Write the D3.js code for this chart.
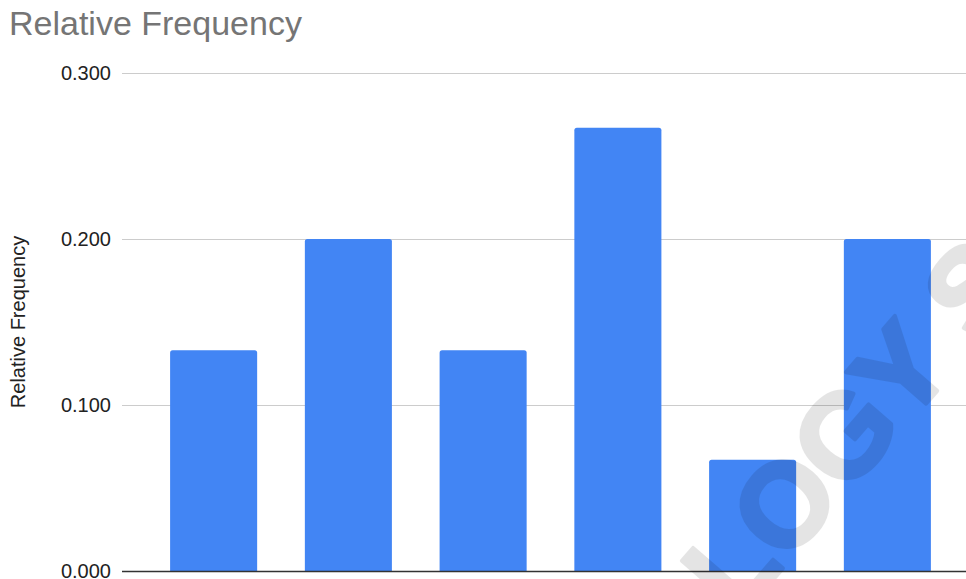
<!DOCTYPE html>
<html>
<head>
<meta charset="utf-8">
<script src="https://cdn.jsdelivr.net/npm/d3@7"></script>
<style>
  html, body { margin: 0; padding: 0; background: #fff; }
  svg { display: block; font-family: "Liberation Sans", Arial, sans-serif; }
</style>
</head>
<body>
<div id="chart"></div>
<script>
// Data
const categories = ["A", "B", "C", "D", "E", "F"]
const values = [0.133, 0.200, 0.133, 0.267, 0.067, 0.200]
const yTicks = [0, 0.1, 0.2, 0.3]
const titleText = "Relative Frequency"
const yLabel = "Relative Frequency"
const watermark = "LOGY S"

const width = 966
const height = 579
const plotLeft = 122
const plotTop = 73
const plotBottom = 571

const svg = d3.select("#chart")
  .append("svg")
  .attr("width", width)
  .attr("height", height)

const x = d3.scaleBand()
  .domain(categories)
  .range([plotLeft, 979])
  .paddingInner(0.354)
  .paddingOuter(0.357)

const y = d3.scaleLinear()
  .domain([0, 0.3])
  .range([plotBottom, plotTop])

// Title
svg.append("text")
  .attr("x", 9)
  .attr("y", 35)
  .attr("fill", "#757575")
  .style("font-size", "34px")
  .text(titleText)

// Gridlines
svg.selectAll(".grid")
  .data(yTicks.filter(d => d > 0))
  .enter()
  .append("line")
  .attr("class", "grid")
  .attr("x1", plotLeft)
  .attr("x2", width)
  .attr("y1", d => y(d) + 0.5)
  .attr("y2", d => y(d) + 0.5)
  .attr("stroke", "#cccccc")
  .attr("stroke-width", 1)

// Tick labels
svg.selectAll(".tick-label")
  .data(yTicks)
  .enter()
  .append("text")
  .attr("class", "tick-label")
  .attr("x", 111)
  .attr("y", d => y(d))
  .attr("dy", "0.36em")
  .attr("text-anchor", "end")
  .attr("fill", "#222")
  .style("font-size", "20px")
  .text(d => d3.format(".3f")(d))

// Y axis title
svg.append("text")
  .attr("transform", `translate(25,${(plotTop + plotBottom) / 2}) rotate(-90)`)
  .attr("text-anchor", "middle")
  .attr("fill", "#222")
  .style("font-size", "20px")
  .text(yLabel)

// Bars, rounded top corners only
const r = 2.5
svg.selectAll(".bar")
  .data(values)
  .enter()
  .append("path")
  .attr("class", "bar")
  .attr("fill", "#4285f4")
  .attr("d", (d, i) => {
    const x0 = x(categories[i])
    const x1 = x0 + x.bandwidth()
    const top = y(d)
    const bot = y(0)
    return `M${x0},${bot} L${x0},${top + r} Q${x0},${top} ${x0 + r},${top}` +
      ` L${x1 - r},${top} Q${x1},${top} ${x1},${top + r} L${x1},${bot} Z`
  })

// Baseline
svg.append("line")
  .attr("x1", plotLeft)
  .attr("x2", width)
  .attr("y1", y(0) + 0.5)
  .attr("y2", y(0) + 0.5)
  .attr("stroke", "#333")
  .attr("stroke-width", 1.5)

// Watermark (group opacity so the thickening stroke does not double up)
svg.append("g")
  .attr("opacity", 0.1)
  .append("text")
  .attr("transform", "translate(738,620) rotate(-49)")
  .attr("fill", "#000")
  .attr("stroke", "#000")
  .attr("stroke-width", 4)
  .attr("stroke-linejoin", "round")
  .style("font-size", "118px")
  .style("font-weight", "bold")
  .text(watermark)
</script>
</body>
</html>
